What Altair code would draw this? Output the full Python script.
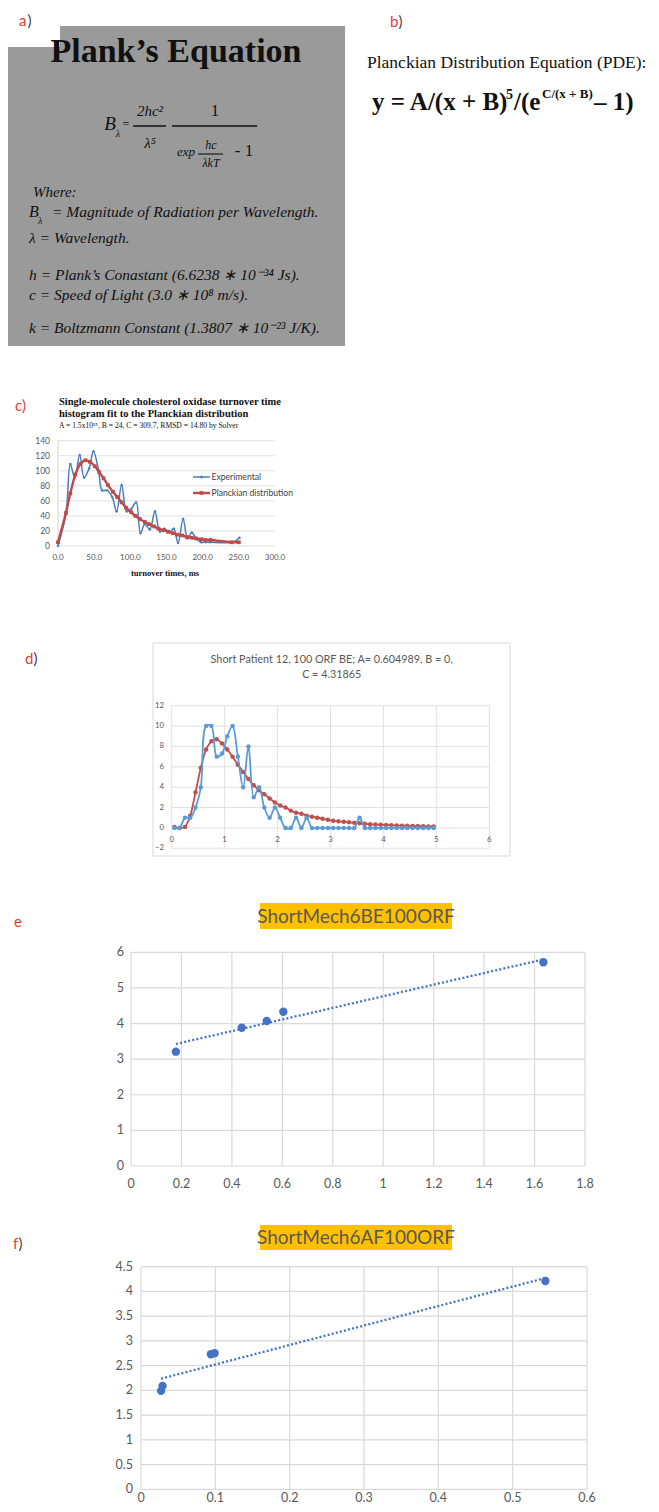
import altair as alt
import pandas as pd

# ---------------- data ----------------
# c) cholesterol oxidase turnover-time histogram
c_exp_x = [0, 11, 17, 23, 30, 36, 43, 49, 56, 61, 68, 75, 81, 88, 95, 101, 108, 114, 120, 127,
           134, 141, 147, 154, 160, 166, 173, 179, 185, 191, 198, 204, 210, 241, 251]
c_exp_y = [0, 43, 109, 91, 121, 91, 103, 126, 101, 74, 74, 65, 46, 81, 46, 49, 58, 17, 29, 22,
           46, 19, 23, 18, 23, 4, 36, 10, 18, 10, 5, 5, 5, 5, 11]
c_fit_x = [0, 11, 17, 24, 31, 38, 44, 51, 57, 63, 69, 76, 82, 88, 94, 101, 107, 113, 120, 126,
           133, 139, 146, 152, 159, 165, 172, 178, 185, 191, 198, 204, 211, 240, 250]
c_fit_y = [5, 44, 70, 95, 109, 114, 112, 106, 98, 90, 81, 72, 65, 58, 51, 45, 40, 36, 32, 29,
           26, 23, 21, 19, 17, 15, 14, 12, 11, 10, 9, 8, 8, 5, 5]
c_xticks = [0, 50, 100, 150, 200, 250, 300]
c_yticks = [0, 20, 40, 60, 80, 100, 120, 140]

# d) Short Patient 12, 100 ORF BE
d_x = [0.05, 0.15, 0.25, 0.35, 0.45, 0.55, 0.65, 0.75, 0.85, 0.95,
       1.05, 1.15, 1.25, 1.35, 1.45, 1.55, 1.65, 1.75, 1.85, 1.95,
       2.05, 2.15, 2.25, 2.35, 2.45, 2.55, 2.65, 2.75, 2.85, 2.95,
       3.05, 3.15, 3.25, 3.35, 3.45, 3.55, 3.65, 3.75, 3.85, 3.95,
       4.05, 4.15, 4.25, 4.35, 4.45, 4.55, 4.65, 4.75, 4.85, 4.95]
d_exp = [0, 0, 1, 1, 2, 4, 10, 10, 7, 7.3,
         9, 10, 7, 4, 8, 3, 4, 2, 1, 2,
         1, 0, 0, 1, 0, 1, 0, 0, 0, 0,
         0, 0, 0, 0, 0, 1, 0, 0, 0, 0,
         0, 0, 0, 0, 0, 0, 0, 0, 0, 0]
d_fit = [0.1, 0.0, 0.1, 1.2, 3.5, 5.9, 7.7, 8.5, 8.7, 8.3,
         7.7, 7.0, 6.2, 5.5, 4.8, 4.2, 3.7, 3.3, 2.9, 2.5,
         2.2, 2.0, 1.7, 1.5, 1.4, 1.2, 1.1, 1.0, 0.9, 0.8,
         0.7, 0.65, 0.6, 0.55, 0.5, 0.45, 0.4, 0.37, 0.34, 0.31,
         0.29, 0.26, 0.24, 0.22, 0.21, 0.19, 0.18, 0.17, 0.15, 0.14]
d_xticks = [0, 1, 2, 3, 4, 5, 6]
d_yticks = [-2, 0, 2, 4, 6, 8, 10, 12]

# e) ShortMech6BE100ORF
e_x = [0.178, 0.439, 0.538, 0.604, 1.635]
e_y = [3.21, 3.88, 4.07, 4.33, 5.72]
e_xticks = [0, 0.2, 0.4, 0.6, 0.8, 1, 1.2, 1.4, 1.6, 1.8]
e_yticks = [0, 1, 2, 3, 4, 5, 6]

# f) ShortMech6AF100ORF
f_x = [0.027, 0.029, 0.094, 0.099, 0.544]
f_y = [1.99, 2.09, 2.73, 2.75, 4.21]
f_xticks = [0, 0.1, 0.2, 0.3, 0.4, 0.5, 0.6]
f_yticks = [0, 0.5, 1, 1.5, 2, 2.5, 3, 3.5, 4, 4.5]

# ---------------- helpers ----------------
W, H = 643, 1496
M = 8


def P(v):
    return v - M


ONE = alt.Data(values=[{"k": 0}])
SERIF = "Liberation Serif"
SANS = "Lato"
GRID = "#d9d9d9"
LAB = "#595959"
RED = "#e8393a"
DARK = "#111111"


def txt(s, x, y, size, font=SERIF, color=DARK, weight="normal", style="normal",
        align="left", baseline="alphabetic"):
    return alt.Chart(ONE).mark_text(
        text=s, align=align, baseline=baseline, font=font, fontSize=size,
        color=color, fontWeight=weight, fontStyle=style
    ).encode(x=alt.value(P(x)), y=alt.value(P(y)))


def box(x1, y1, x2, y2, fill=None, stroke=None):
    kw = {}
    if fill:
        kw["fill"] = fill
    else:
        kw["fill"] = "white"
        kw["fillOpacity"] = 0
    if stroke:
        kw["stroke"] = stroke
        kw["strokeWidth"] = 1
    return alt.Chart(ONE).mark_rect(**kw).encode(
        x=alt.value(P(x1)), x2=alt.value(P(x2)), y=alt.value(P(y1)), y2=alt.value(P(y2)))


def seg(x1, x2, y, color=DARK, w=1.2):
    return alt.Chart(ONE).mark_rule(color=color, strokeWidth=w).encode(
        x=alt.value(P(x1)), x2=alt.value(P(x2)), y=alt.value(P(y)))


def vseg(x, y1, y2, color=DARK, w=1.0):
    return alt.Chart(ONE).mark_rule(color=color, strokeWidth=w).encode(
        x=alt.value(P(x)), y=alt.value(P(y1)), y2=alt.value(P(y2)))


def xlabels(ticks, scale, y, fmt, size, font=SANS, color=LAB):
    return alt.Chart(pd.DataFrame({"v": ticks})).mark_text(
        align="center", baseline="middle", font=font, fontSize=size, color=color
    ).encode(x=alt.X("v:Q", scale=scale, axis=None), y=alt.value(P(y)),
             text=alt.Text("v:Q", format=fmt))


def ylabels(ticks, scale, xright, fmt, size, font=SANS, color=LAB):
    return alt.Chart(pd.DataFrame({"v": ticks})).mark_text(
        align="right", baseline="middle", font=font, fontSize=size, color=color
    ).encode(y=alt.Y("v:Q", scale=scale, axis=None), x=alt.value(P(xright)),
             text=alt.Text("v:Q", format=fmt))


def hgrid(ticks, scale, x1, x2, w=0.8):
    return alt.Chart(pd.DataFrame({"v": ticks})).mark_rule(color=GRID, strokeWidth=w).encode(
        y=alt.Y("v:Q", scale=scale, axis=None), x=alt.value(P(x1)), x2=alt.value(P(x2)))


def vgrid(ticks, scale, y1, y2, w=0.8):
    return alt.Chart(pd.DataFrame({"v": ticks})).mark_rule(color=GRID, strokeWidth=w).encode(
        x=alt.X("v:Q", scale=scale, axis=None), y=alt.value(P(y1)), y2=alt.value(P(y2)))


layers = []

# ---------------- panel a (Planck's equation card) ----------------
layers.append(box(7, 26, 345, 346, fill="#9a9a9a"))
layers.append(box(5, 24, 60, 47, fill="white"))
layers.append(txt("Plank’s Equation", 176, 62, 34, weight="bold", align="center"))
# B_lambda = 2hc^2/lambda^5 * 1/(exp(hc/lambda k T) - 1)
layers.append(txt("B", 110, 124, 19, style="italic", align="center", baseline="middle"))
layers.append(txt("λ", 118, 134, 10, style="italic", align="center", baseline="middle"))
layers.append(txt("=", 126, 124, 12, align="center", baseline="middle"))
layers.append(txt("2hc²", 150, 111, 15, style="italic", align="center", baseline="middle"))
layers.append(seg(133, 166, 126, w=1.4))
layers.append(txt("λ⁵", 150, 143, 15, style="italic", align="center", baseline="middle"))
layers.append(seg(172, 257, 126, w=1.4))
layers.append(txt("1", 215, 111, 17, align="center", baseline="middle"))
layers.append(txt("exp", 186, 152, 13, style="italic", align="center", baseline="middle"))
layers.append(seg(198, 223, 154, w=1.1))
layers.append(txt("hc", 211, 145, 12, style="italic", align="center", baseline="middle"))
layers.append(txt("λkT", 211, 163, 12, style="italic", align="center", baseline="middle"))
layers.append(txt("- 1", 244, 151, 17, align="center", baseline="middle"))
layers.append(txt("Where:", 33, 197, 15, style="italic"))
layers.append(txt("B", 29, 217, 16, style="italic"))
layers.append(txt("λ", 38, 224, 10, style="italic"))
layers.append(txt("= Magnitude of Radiation per Wavelength.", 52, 217, 15.5, style="italic"))
layers.append(txt("λ = Wavelength.", 29, 243, 15.5, style="italic"))
layers.append(txt("h = Plank’s Conastant (6.6238 ∗ 10⁻³⁴ Js).", 29, 280, 15.5, style="italic"))
layers.append(txt("c = Speed of Light (3.0 ∗ 10⁸ m/s).", 29, 300, 15.5, style="italic"))
layers.append(txt("k = Boltzmann Constant (1.3807 ∗ 10⁻²³ J/K).", 29, 333, 15.5, style="italic"))

# ---------------- panel b (PDE) ----------------
layers.append(txt("Planckian Distribution Equation (PDE):", 367, 68, 17.5))
layers.append(txt("y  = A/(x + B)", 372, 110, 25, weight="bold"))
layers.append(txt("5", 506, 99, 14, weight="bold"))
layers.append(txt("/(e", 514, 110, 25, weight="bold"))
layers.append(txt("C/(x + B)", 542, 98, 13, weight="bold"))
layers.append(txt(" – 1)", 594, 110, 25, weight="bold"))

# ---------------- panel labels ----------------
layers.append(txt("a", 19, 26, 15, font=SANS, color=RED))
layers.append(txt(")", 27.5, 26, 15, font=SANS, color="#404040"))
layers.append(txt("b", 390, 27, 15, font=SANS, color=RED))
layers.append(txt(")", 398.5, 27, 15, font=SANS, color="#404040"))
layers.append(txt("c)", 15, 411, 15, font=SANS, color=RED))
layers.append(txt("d", 25, 664, 15, font=SANS, color=RED))
layers.append(txt(")", 33.5, 664, 15, font=SANS, color="#404040"))
layers.append(txt("e", 14, 927, 15, font=SANS, color=RED))
layers.append(txt("f", 13, 1249, 15, font=SANS, color=RED))
layers.append(txt(")", 18.5, 1249, 15, font=SANS, color="#404040"))

# ---------------- panel c ----------------
CB = "#4a7ebb"
CR = "#be4b48"
layers.append(txt("Single-molecule cholesterol oxidase turnover time", 59, 405, 10.5, weight="bold"))
layers.append(txt("histogram fit to the Planckian distribution", 59, 417, 10.5, weight="bold"))
layers.append(txt("A = 1.5x10¹⁵, B = 24, C = 309.7, RMSD = 14.80 by Solver", 59, 427.5, 7.6))
layers.append(txt("turnover times, ms", 165, 573, 8.5, weight="bold", align="center", baseline="middle"))
layers.append(vseg(58, 440.7, 546, color="#c8c8c8", w=0.8))

cxs = alt.Scale(domain=[0, 300], range=[P(58), P(275)], nice=False, zero=False)
cys = alt.Scale(domain=[0, 140], range=[P(546), P(440.7)], nice=False, zero=False)
c_df_exp = pd.DataFrame({"x": c_exp_x, "y": c_exp_y})
c_df_fit = pd.DataFrame({"x": c_fit_x, "y": c_fit_y})
c_blue = alt.Chart(c_df_exp).mark_line(color=CB, strokeWidth=1.5, interpolate="catmull-rom").encode(
    x=alt.X("x:Q", scale=cxs, axis=None), y=alt.Y("y:Q", scale=cys, axis=None))
c_blue_pts = alt.Chart(c_df_exp).mark_point(shape="diamond", filled=True, size=10, color=CB, opacity=1).encode(
    x=alt.X("x:Q", scale=cxs, axis=None), y=alt.Y("y:Q", scale=cys, axis=None))
c_red = alt.Chart(c_df_fit).mark_line(color=CR, strokeWidth=2.4, interpolate="catmull-rom").encode(
    x=alt.X("x:Q", scale=cxs, axis=None), y=alt.Y("y:Q", scale=cys, axis=None))
c_red_pts = alt.Chart(c_df_fit).mark_square(size=14, color=CR, opacity=1).encode(
    x=alt.X("x:Q", scale=cxs, axis=None), y=alt.Y("y:Q", scale=cys, axis=None))
layers.append(alt.layer(
    hgrid(c_yticks, cys, 58, 275),
    xlabels(c_xticks, cxs, 558, ".1f", 8),
    ylabels(c_yticks, cys, 50, "d", 8.5),
    c_blue, c_blue_pts, c_red, c_red_pts))
# legend of c
layers.append(seg(193, 210, 477, color=CB, w=1.5))
layers.append(alt.Chart(ONE).mark_point(shape="diamond", filled=True, size=12, color=CB, opacity=1).encode(
    x=alt.value(P(201.5)), y=alt.value(P(477))))
layers.append(txt("Experimental", 211.5, 477, 8.6, font=SANS, color="#404040", baseline="middle"))
layers.append(seg(193, 210, 493, color=CR, w=2.4))
layers.append(alt.Chart(ONE).mark_square(size=14, color=CR, opacity=1).encode(
    x=alt.value(P(201.5)), y=alt.value(P(493))))
layers.append(txt("Planckian distribution", 211.5, 493, 8.6, font=SANS, color="#404040", baseline="middle"))

# ---------------- panel d ----------------
DB = "#5b9bd5"
DR = "#c0504d"
layers.append(box(153, 643, 510, 856, stroke=GRID))
layers.append(txt("Short Patient 12, 100 ORF BE; A= 0.604989, B = 0,", 331.7, 660, 10.8,
                  font=SANS, color=LAB, align="center", baseline="middle"))
layers.append(txt("C = 4.31865", 331.7, 675, 10.8, font=SANS, color=LAB, align="center", baseline="middle"))
dxs = alt.Scale(domain=[0, 6], range=[P(171.7), P(489.3)], nice=False, zero=False)
dys = alt.Scale(domain=[-2, 12], range=[P(848.3), P(705.7)], nice=False, zero=False)
d_df = pd.DataFrame({"x": d_x, "exp": d_exp, "fit": d_fit})
d_red = alt.Chart(d_df).mark_line(color=DR, strokeWidth=1.8, interpolate="catmull-rom").encode(
    x=alt.X("x:Q", scale=dxs, axis=None), y=alt.Y("fit:Q", scale=dys, axis=None))
d_red_pts = alt.Chart(d_df).mark_circle(size=20, color=DR, opacity=1).encode(
    x=alt.X("x:Q", scale=dxs, axis=None), y=alt.Y("fit:Q", scale=dys, axis=None))
d_blue = alt.Chart(d_df).mark_line(color=DB, strokeWidth=1.8, interpolate="catmull-rom").encode(
    x=alt.X("x:Q", scale=dxs, axis=None), y=alt.Y("exp:Q", scale=dys, axis=None))
d_blue_pts = alt.Chart(d_df).mark_circle(size=20, color=DB, opacity=1).encode(
    x=alt.X("x:Q", scale=dxs, axis=None), y=alt.Y("exp:Q", scale=dys, axis=None))
layers.append(alt.layer(
    vgrid(d_xticks, dxs, 705.7, 848.3),
    hgrid(d_yticks, dys, 171.7, 489.3),
    xlabels(d_xticks, dxs, 840, "d", 7.8),
    ylabels(d_yticks, dys, 164, "d", 7.8),
    d_red, d_red_pts, d_blue, d_blue_pts))

# ---------------- panels e, f ----------------
EB = "#4472c4"


def scatter_panel(xs, ys, xticks, yticks, xdom, ydom, left, right, top, bottom,
                  xlab_y, ylab_x, title, ttop, tbottom):
    out = []
    out.append(box(260, ttop, 452, tbottom, fill="#ffc000"))
    out.append(txt(title, 356, (ttop + tbottom) / 2 + 0.5, 19, font=SANS, color=LAB,
                   align="center", baseline="middle"))
    xs_ = alt.Scale(domain=xdom, range=[P(left), P(right)], nice=False, zero=False)
    ys_ = alt.Scale(domain=ydom, range=[P(bottom), P(top)], nice=False, zero=False)
    df = pd.DataFrame({"x": xs, "y": ys})
    trend = alt.Chart(df).transform_regression("x", "y").mark_line(
        color=EB, strokeWidth=2.3, strokeDash=[2, 2.2]).encode(
        x=alt.X("x:Q", scale=xs_, axis=None), y=alt.Y("y:Q", scale=ys_, axis=None))
    pts = alt.Chart(df).mark_circle(size=70, color=EB, opacity=1).encode(
        x=alt.X("x:Q", scale=xs_, axis=None), y=alt.Y("y:Q", scale=ys_, axis=None))
    out.append(alt.layer(
        vgrid(xticks, xs_, top, bottom, w=1.2),
        hgrid(yticks, ys_, left, right, w=1.2),
        xlabels(xticks, xs_, xlab_y, "~g", 12.5),
        ylabels(yticks, ys_, ylab_x, "~g", 12.5),
        trend, pts))
    return out


layers += scatter_panel(e_x, e_y, e_xticks, e_yticks, [0, 1.8], [0, 6], 131, 585, 952.3, 1166,
                        1183.5, 124, "ShortMech6BE100ORF", 903, 929)
layers += scatter_panel(f_x, f_y, f_xticks, f_yticks, [0, 0.6], [0, 4.5], 141, 587, 1266.7, 1489.3,
                        1497.5, 133, "ShortMech6AF100ORF", 1225, 1250)

chart = alt.layer(*layers).resolve_scale(x="independent", y="independent").properties(
    width=W, height=H, padding=0, autosize=alt.AutoSizeParams(type="none")
).configure_view(stroke=None)

chart.save("out.html", embed_options={"renderer": "svg", "actions": False})
